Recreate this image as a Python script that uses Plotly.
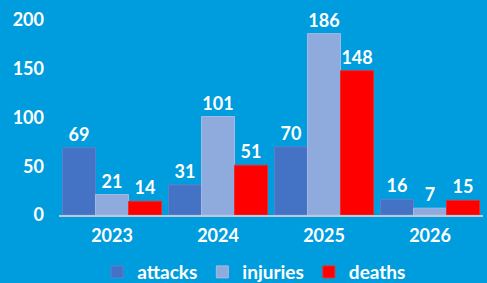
import plotly.graph_objects as go

years = ["2023", "2024", "2025", "2026"]
attacks = [69, 31, 70, 16]
injuries = [21, 101, 186, 7]
deaths = [14, 51, 148, 15]
y_ticks = [0, 50, 100, 150, 200]

BG = "#009DDE"
FONT = "Lato"

fig = go.Figure()
series = [("attacks", attacks, "#4472C4", "#5A82CC"),
          ("injuries", injuries, "#8FAADC", "#A3BAE3"),
          ("deaths", deaths, "#FF0000", "#E03030")]
for name, vals, col, lc in series:
    fig.add_trace(go.Bar(
        x=years, y=vals, name=name,
        marker=dict(color=col, line=dict(color=lc, width=1)),
        text=[str(v) for v in vals], textposition="outside",
        textfont=dict(color="white", size=18, family=FONT, weight="bold"),
        cliponaxis=False,
    ))

fig.update_layout(
    width=487, height=283,
    paper_bgcolor=BG, plot_bgcolor=BG,
    barmode="group", bargap=0.065, bargroupgap=0,
    margin=dict(l=59, r=4, t=20, b=68, autoexpand=False),
    font=dict(family=FONT, color="white", size=18, weight="bold"),
    showlegend=True,
    legend=dict(orientation="h", x=0.09, xanchor="left", y=-0.195, yanchor="top",
                font=dict(size=19, color="white", family=FONT, weight="bold"),
                bgcolor="rgba(0,0,0,0)", itemwidth=30, tracegroupgap=0),
)
fig.update_yaxes(range=[0, 200], tickvals=y_ticks, showgrid=False, zeroline=False,
                 showline=False, ticks="", ticklabelstandoff=14,
                 tickfont=dict(size=18, color="white", family=FONT, weight="bold"))
fig.update_xaxes(showline=True, linecolor="#BFC8D8", linewidth=1.5, ticks="",
                 ticklabelstandoff=4,
                 tickfont=dict(size=18, color="white", family=FONT, weight="bold"))

fig.write_html("out.html", config={"displayModeBar": False},
               post_script="document.body.style.margin='0';document.body.style.overflow='hidden';")
